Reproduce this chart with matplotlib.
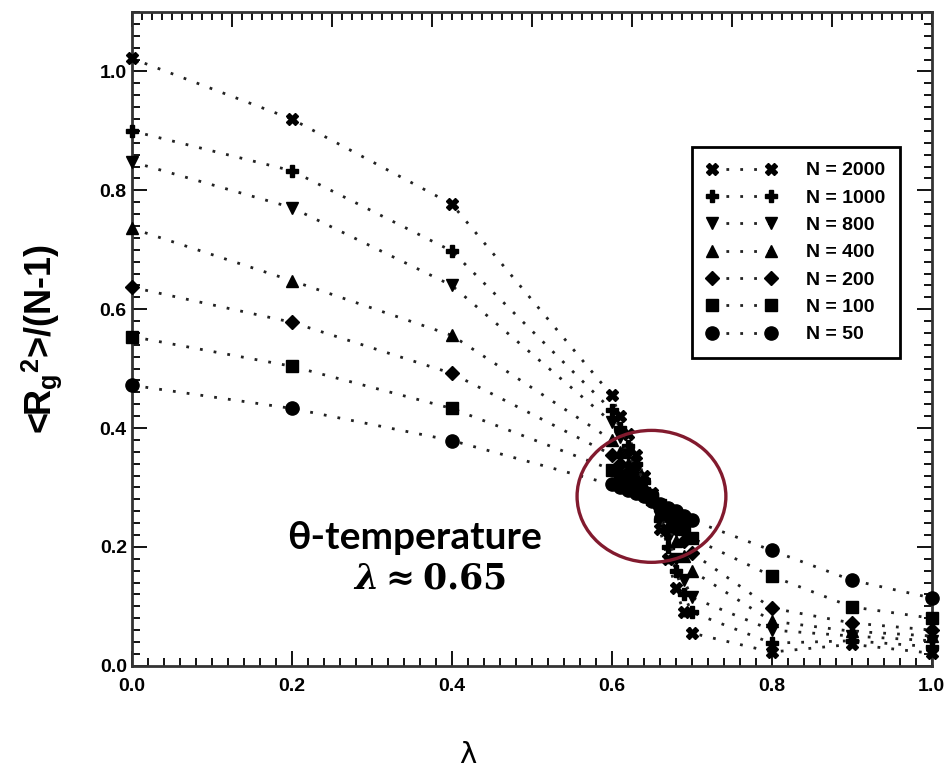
import matplotlib
matplotlib.use('Agg')
import matplotlib.pyplot as plt
from matplotlib.patches import Ellipse
from matplotlib.ticker import MultipleLocator

plt.rcParams['mathtext.fontset'] = 'custom'
plt.rcParams['mathtext.sf'] = 'Liberation Sans:bold'
plt.rcParams['mathtext.rm'] = 'DejaVu Serif:bold'
plt.rcParams['mathtext.it'] = 'DejaVu Serif:italic:bold'

# lambda values (x axis)
lam = [0.0, 0.2, 0.4, 0.60, 0.61, 0.62, 0.63, 0.64, 0.65, 0.66, 0.67, 0.68, 0.69, 0.70, 0.8, 0.9, 1.0]

# <Rg^2>/(N-1) per chain length
n2000 = [1.022, 0.920, 0.777, 0.455, 0.42, 0.39, 0.355, 0.32, 0.29, 0.23, 0.18, 0.13, 0.09, 0.055, 0.023, 0.036, 0.021]
n1000 = [0.900, 0.833, 0.698, 0.43, 0.40, 0.37, 0.34, 0.31, 0.287, 0.245, 0.20, 0.16, 0.12, 0.09, 0.038, 0.042, 0.032]
n800 = [0.848, 0.771, 0.640, 0.41, 0.385, 0.355, 0.33, 0.305, 0.283, 0.25, 0.215, 0.18, 0.145, 0.115, 0.06, 0.05, 0.042]
n400 = [0.736, 0.648, 0.556, 0.38, 0.36, 0.34, 0.32, 0.30, 0.282, 0.26, 0.235, 0.21, 0.185, 0.16, 0.075, 0.058, 0.05]
n200 = [0.637, 0.578, 0.492, 0.355, 0.34, 0.325, 0.31, 0.295, 0.28, 0.265, 0.25, 0.23, 0.21, 0.19, 0.097, 0.072, 0.06]
n100 = [0.554, 0.504, 0.433, 0.33, 0.32, 0.31, 0.30, 0.29, 0.28, 0.27, 0.26, 0.245, 0.23, 0.215, 0.151, 0.099, 0.080]
n50 = [0.472, 0.433, 0.379, 0.305, 0.30, 0.295, 0.29, 0.285, 0.278, 0.272, 0.266, 0.26, 0.252, 0.245, 0.194, 0.144, 0.114]

series = [n2000, n1000, n800, n400, n200, n100, n50]
labels = ['N = 2000', 'N = 1000', 'N = 800', 'N = 400', 'N = 200', 'N = 100', 'N = 50']
markers = ['X', 'P', 'v', '^', 'D', 's', 'o']
msizes = [8, 9, 9, 9, 7, 8.5, 9.5]

fig = plt.figure(figsize=(9.44, 7.76), dpi=100)
ax = fig.add_axes([0.1395, 0.1421, 0.8475, 0.8424])

for ys, lab, m, ms in zip(series, labels, markers, msizes):
    ax.plot(lam, ys, linestyle=(0, (1, 4)), linewidth=2, color='#222222',
            marker=m, markersize=ms, markerfacecolor='black', markeredgecolor='black',
            label=lab, clip_on=False, zorder=3)

ax.set_xlim(0, 1.0)
ax.set_ylim(0, 1.1)
ax.xaxis.set_minor_locator(MultipleLocator(0.02))
ax.yaxis.set_minor_locator(MultipleLocator(0.02))
ax.set_xticks([0, 0.2, 0.4, 0.6, 0.8, 1.0])
ax.set_xticklabels(['0.0', '0.2', '0.4', '0.6', '0.8', '1.0'])
ax.set_yticks([0, 0.2, 0.4, 0.6, 0.8, 1.0])
ax.set_yticklabels(['0.0', '0.2', '0.4', '0.6', '0.8', '1.0'])
ax.tick_params(which='major', direction='in', length=11, width=1.3, labelsize=14, right=True)
ax.tick_params(axis='x', which='major', pad=9)
ax.tick_params(which='minor', direction='in', length=5.5, width=1.3, right=True)
for t in ax.get_xticklabels() + ax.get_yticklabels():
    t.set_fontweight('bold')
    t.set_family('Liberation Sans')

# top axis has its own tick spacing in the original
top = ax.secondary_xaxis('top', functions=(lambda x: x * 8, lambda x: x / 8))
top.xaxis.set_major_locator(MultipleLocator(1))
top.xaxis.set_minor_locator(MultipleLocator(0.1))
top.tick_params(which='major', direction='in', length=11, width=1.3, labeltop=False)
top.tick_params(which='minor', direction='in', length=5.5, width=1.3)

for s in ax.spines.values():
    s.set_linewidth(2)
    s.set_color('#333333')

ax.set_xlabel('λ', fontsize=21)
ax.xaxis.set_label_coords(0.42, -0.115)
ax.set_ylabel(r'<R$_\mathsf{g}$$^\mathsf{2}$>/(N-1)', fontsize=26, fontweight='bold',
              family='Liberation Sans')
ax.yaxis.set_label_coords(-0.085, 0.5)

leg = ax.legend(loc='upper right', bbox_to_anchor=(0.972, 0.808), numpoints=2,
                handlelength=3.6, handletextpad=1.5, labelspacing=0.5,
                borderpad=0.75, fancybox=False, framealpha=1, edgecolor='black',
                prop={'family': 'Liberation Sans', 'weight': 'bold', 'size': 14})
leg.get_frame().set_linewidth(2)

ax.add_patch(Ellipse((0.6497, 0.285), 0.186, 0.222, fill=False,
                     edgecolor='#821a2e', linewidth=2.4, zorder=5))

ax.text(0.354, 0.215, 'θ-temperature', fontsize=28, fontweight='bold', family='Lato',
        ha='center', va='center')
ax.text(0.373, 0.147, r'$\lambda \approx \mathrm{0.65}$', fontsize=25,
        ha='center', va='center')

fig.savefig('out.png', dpi=100)
